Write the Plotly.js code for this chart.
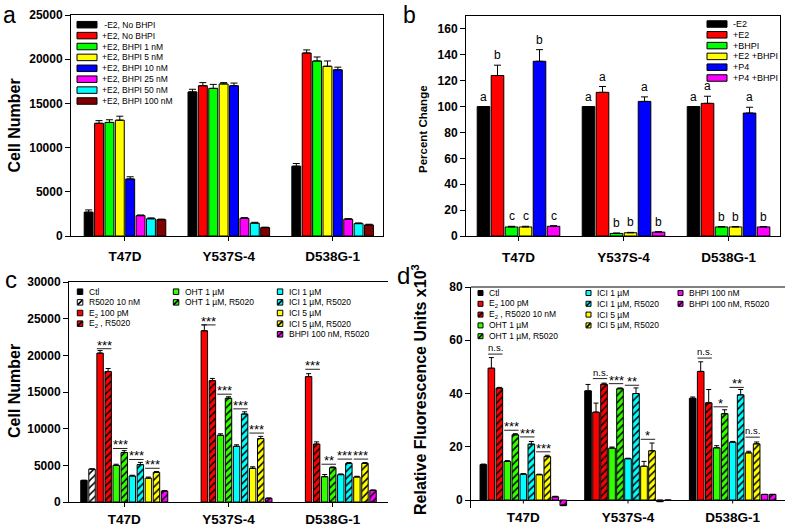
<!DOCTYPE html>
<html>
<head>
<meta charset="utf-8">
<script src="https://cdn.plot.ly/plotly-3.0.1.min.js"></script>
<style>html,body{margin:0;padding:0;background:#fff;}#chart{width:787px;height:527px;}</style>
</head>
<body>
<div id="chart"></div>
<script>
// ---------------- DATA ----------------
const categories = ['T47D', 'Y537S-4', 'D538G-1'];

// Panel a: cell number
const aSeriesNames = [' -E2, No BHPI', '+E2, No BHPI', '+E2, BHPI 1 nM', '+E2, BHPI 5 nM', '+E2, BHPI 10 nM', '+E2, BHPI 25 nM', '+E2, BHPI 50 nM', '+E2, BHPI 100 nM'];
const aCellNumber = [
  [2700, 16300, 7900],
  [12750, 17000, 20700],
  [12850, 16700, 19800],
  [13100, 17200, 19200],
  [6450, 17000, 18800],
  [2300, 2000, 1900],
  [1950, 1450, 1400],
  [1850, 950, 1250]
];
const aError = [
  [250, 300, 300],
  [300, 350, 350],
  [300, 450, 450],
  [450, 150, 600],
  [250, 300, 300],
  [80, 80, 60],
  [100, 100, 80],
  [60, 50, 80]
];

// Panel b: percent change
const bSeriesNames = ['-E2', '+E2', '+BHPI', '+E2 +BHPI', '+P4', '+P4 +BHPI'];
const bPercent = [
  [100, 100, 100],
  [124, 111, 102.5],
  [7, 2, 7],
  [7, 2.5, 7],
  [135, 104, 95],
  [7.5, 3, 7]
];
const bError = [
  [0, 0, 0],
  [8, 4.5, 5.5],
  [0.5, 0.3, 0.3],
  [0.5, 0.3, 0.3],
  [9, 3.5, 4.5],
  [0.5, 0.3, 0.3]
];
const bLetters = [
  ['a', 'a', 'a'],
  ['b', 'a', 'a'],
  ['c', 'b', 'b'],
  ['c', 'b', 'b'],
  ['b', 'a', 'a'],
  ['c', 'b', 'b']
];

// Panel c: cell number
const cSeriesNames = ['Ctl', 'R5020 10 nM', 'E<sub>2</sub> 100 pM', 'E<sub>2</sub> , R5020', 'OHT 1 µM', 'OHT 1 µM, R5020', 'ICI 1 µM', 'ICI 1 µM, R5020', 'ICI 5 µM', 'ICI 5 µM, R5020', 'BHPI 100 nM, R5020'];
const cCellNumber = [
  [2950, null, null],
  [4500, null, null],
  [20300, 23350, 17100],
  [17800, 16550, 7900],
  [5000, 9100, 3450],
  [6750, 14150, 4680],
  [3550, 7600, 3730],
  [5100, 12000, 5270],
  [3250, 4600, 3410],
  [4050, 8650, 5270],
  [1500, 500, 1590]
];
const cError = [
  [0, 0, 0],
  [0, 0, 0],
  [350, 800, 400],
  [400, 300, 300],
  [150, 200, 300],
  [250, 200, 100],
  [100, 200, 100],
  [300, 300, 100],
  [150, 200, 100],
  [100, 300, 100],
  [50, 50, 50]
];
const cSigCategory = [0, 0, 0, 0, 1, 1, 1, 1, 2, 2, 2, 2];
const cSigFirstSeries = [2, 4, 6, 8, 2, 4, 6, 8, 2, 4, 6, 8];
const cSigLevel = [20900, 7300, 5800, 4600, 24150, 14700, 12700, 9400, 18100, 5150, 5850, 5850];
const cSigLabel = ['***', '***', '***', '***', '***', '***', '***', '***', '***', '**', '***', '***'];

// Panel d: relative fluorescence units x10^3
const dSeriesNames = ['Ctl', 'E<sub>2</sub> 100 pM', 'E<sub>2</sub> , R5020 10 nM', 'OHT 1 µM', 'OHT 1 µM, R5020', 'ICI 1 µM', 'ICI 1 µM, R5020', 'ICI 5 µM', 'ICI 5 µM, R5020', 'BHPI 100 nM', 'BHPI 100 nM, R5020'];
const dRFU = [
  [13.3, 41, 38.2],
  [49.5, 33, 48.3],
  [42, 43.5, 36.5],
  [14.5, 19.5, 19.6],
  [24.5, 41.8, 32.4],
  [9.7, 15.5, 21.7],
  [21, 40, 39.5],
  [9.5, 12.7, 17.7],
  [16.3, 18.5, 21.1],
  [1.2, -0.6, 2.1],
  [-2.1, -0.1, 2.1]
];
const dError = [
  [0.2, 2.4, 0.5],
  [4, 3.4, 3.6],
  [0.3, 0.4, 5],
  [0.3, 0.4, 0.8],
  [0.4, 0.3, 1.5],
  [0.2, 0.2, 0.3],
  [1, 2.1, 2],
  [0.2, 1.8, 0.6],
  [0.5, 2.9, 0.7],
  [0.2, 0.5, 0],
  [0.3, 0, 0]
];
const dSigCategory = [0, 0, 0, 0, 1, 1, 1, 1, 2, 2, 2, 2];
const dSigFirstSeries = [1, 3, 5, 7, 1, 3, 5, 7, 1, 3, 5, 7];
const dSigLevel = [54.8, 26.2, 23.7, 18.1, 45.6, 43.7, 43.1, 22.8, 53.3, 35, 42.3, 23.6];
const dSigLabel = ['n.s.', '***', '***', '***', 'n.s.', '***', '**', '*', 'n.s.', '*', '**', 'n.s.'];

// ---------------- STYLE ----------------
const aColors = ['#000000', '#ff0000', '#00ff00', '#ffff00', '#0000ff', '#ff00ff', '#00ffff', '#800000'];
const bColors = ['#000000', '#ff0000', '#00ff00', '#ffff00', '#0000ff', '#ff00ff'];
const LIME = '#33ff00';
const cColors = ['#000000', '#ffffff', '#ff0000', '#ff0000', LIME, LIME, '#00ffff', '#00ffff', '#ffff00', '#ffff00', '#ff00ff'];
const cHatch = [0, 1, 0, 1, 0, 1, 0, 1, 0, 1, 1];
const dColors = ['#000000', '#ff0000', '#ff0000', LIME, LIME, '#00ffff', '#00ffff', '#ffff00', '#ffff00', '#ff00ff', '#ff00ff'];
const dHatch = [0, 0, 1, 0, 1, 0, 1, 0, 1, 0, 1];

const W = 787, H = 527;
const fx = p => p / W;
const fy = p => 1 - p / H;
const FONT = 'Liberation Sans, Arial, Helvetica, sans-serif';

const traces = [];
const annotations = [];
const shapes = [];

function groupGeom(n, G) { const slot = G / n; return { slot, center: (c, i) => c - G / 2 + (i + 0.5) * slot }; }

function buildBars(s, vals, errs, colors, hatch, G, f, capw) {
  const n = vals.length, slot = G / n;
  vals.forEach((v, i) => {
    const marker = { color: colors[i], line: { color: '#000', width: 1 } };
    if (hatch && hatch[i]) marker.pattern = { shape: '/', fgcolor: '#000', bgcolor: colors[i], size: 5, solidity: 0.3, fillmode: 'replace' };
    traces.push({
      type: 'bar', x: [0, 1, 2], y: v, xaxis: 'x' + s, yaxis: 'y' + s,
      width: slot * f, offset: -G / 2 + i * slot + slot * (1 - f) / 2,
      marker, hoverinfo: 'skip', showlegend: false,
      error_y: { type: 'data', array: errs[i], arrayminus: [0, 0, 0], symmetric: false, color: '#000', thickness: 1, width: capw }
    });
  });
}

function buildSig(s, n, G, cats, firsts, levels, labels, starSize, shiftStar, shiftText) {
  const g = groupGeom(n, G);
  cats.forEach((c, k) => {
    const i = firsts[k];
    const x0 = g.center(c, i) - 0.4 * g.slot, x1 = g.center(c, i + 1) + 0.4 * g.slot;
    shapes.push({ type: 'line', xref: 'x' + s, yref: 'y' + s, x0, x1, y0: levels[k], y1: levels[k], line: { color: '#222', width: 1 } });
    const isStar = labels[k].indexOf('*') >= 0;
    annotations.push({ xref: 'x' + s, yref: 'y' + s, x: (x0 + x1) / 2, y: levels[k], text: labels[k], showarrow: false,
      yanchor: 'bottom', xanchor: 'center', yshift: isStar ? shiftStar : shiftText,
      font: { family: FONT, size: isStar ? starSize : 9.5, color: '#000' } });
  });
}

function buildLegend(cols, names, colors, hatch, sw, sh, textDx, y0, step, fontSize) {
  cols.forEach(col => {
    col.items.forEach((idx, r) => {
      const yc = y0 + r * step;
      shapes.push({ type: 'rect', xref: 'paper', yref: 'paper', x0: fx(col.x), x1: fx(col.x + sw), y0: fy(yc + sh / 2), y1: fy(yc - sh / 2),
        fillcolor: colors[idx], line: { color: '#000', width: 1 } });
      if (hatch && hatch[idx]) {
        shapes.push({ type: 'line', xref: 'paper', yref: 'paper', x0: fx(col.x + 0.5), x1: fx(col.x + sw - 0.5), y0: fy(yc + sh / 2 - 0.5), y1: fy(yc - sh / 2 + 0.5),
          line: { color: '#000', width: 1.6 } });
      }
      annotations.push({ xref: 'paper', yref: 'paper', x: fx(col.x + textDx), y: fy(yc), text: names[idx], showarrow: false,
        xanchor: 'left', yanchor: 'middle', font: { family: FONT, size: fontSize, color: '#000' } });
    });
  });
}

// Panel a
const GA = 0.8, FA = 0.86;
buildBars('', aCellNumber, aError, aColors, null, GA, FA, 3.5);
buildLegend([{ x: 77, items: [0, 1, 2, 3, 4, 5, 6, 7] }], aSeriesNames, aColors, null, 20, 6.5, 23, 24.7, 10.9, 8.5);

// Panel b
const GB = 0.8, FB = 0.9;
buildBars('2', bPercent, bError, bColors, null, GB, FB, 3.5);
buildLegend([{ x: 707, items: [0, 1, 2, 3, 4, 5] }], bSeriesNames, bColors, null, 20, 6.5, 24, 24, 10.8, 9);
{
  const g = groupGeom(6, GB);
  bLetters.forEach((row, i) => row.forEach((t, c) => {
    annotations.push({ xref: 'x2', yref: 'y2', x: g.center(c, i), y: bPercent[i][c] + bError[i][c], text: t, showarrow: false,
      yanchor: 'bottom', yshift: 1, font: { family: FONT, size: 12, color: '#000' } });
  }));
}

// Panel c
const GC = 0.85, FC = 0.8;
buildBars('3', cCellNumber, cError, cColors, cHatch, GC, FC, 2.5);
buildSig('3', 11, GC, cSigCategory, cSigFirstSeries, cSigLevel, cSigLabel, 13, -6, -1);
buildLegend([{ x: 77.3, items: [0, 1, 2, 3] }, { x: 173.3, items: [4, 5] }, { x: 277.3, items: [6, 7, 8, 9, 10] }],
  cSeriesNames, cColors, cHatch, 5.5, 5.5, 9.5, 291.7, 10.65, 8.5);

// Panel d
const GD = 0.84, FD = 0.83;
buildBars('4', dRFU, dError, dColors, dHatch, GD, FD, 2.5);
buildSig('4', 11, GD, dSigCategory, dSigFirstSeries, dSigLevel, dSigLabel, 13, -6, -1);
buildLegend([{ x: 478, items: [0, 1, 2, 3, 4] }, { x: 586, items: [5, 6, 7, 8] }, { x: 678, items: [9, 10] }],
  dSeriesNames, dColors, dHatch, 5, 5, 9, 293, 10.8, 8.5);
// category ticks on the zero line of panel d
[0, 1, 2].forEach(c => shapes.push({ type: 'line', xref: 'x4', yref: 'y4', x0: c, x1: c, y0: 0, y1: -1.3, line: { color: '#000', width: 1 } }));
// top border of panel d
shapes.push({ type: 'line', xref: 'paper', yref: 'paper', x0: fx(471), x1: fx(785), y0: fy(287), y1: fy(287), line: { color: '#000', width: 1 } });

// axis titles and panel letters
function label(x, y, text, size, bold, angle, yanchor) {
  annotations.push({ xref: 'paper', yref: 'paper', x: fx(x), y: fy(y), text, showarrow: false, textangle: angle || 0,
    xanchor: 'center', yanchor: yanchor || 'middle', font: { family: FONT, size, color: '#000', weight: bold ? 'bold' : 'normal' } });
}
label(14, 125.5, 'Cell Number', 16, true, -90);
label(423, 129, 'Percent Change', 11.5, true, -90);
label(14, 391, 'Cell Number', 16, true, -90);
label(419, 390, 'Relative Fluorescence Units x10<sup>3</sup>', 16, true, -90);
label(9, 0, 'a', 23, false, 0, 'top');
label(409, 0, 'b', 23, false, 0, 'top');
label(11, 279, 'c', 24, false);
label(404, 275, 'd', 24, false);

// ---------------- LAYOUT ----------------
const tickFontY = { family: FONT, size: 12, color: '#000', weight: 'bold' };
const tickFontX = { family: FONT, size: 13.5, color: '#000', weight: 'bold' };
function xAx(d0, d1, r0, r1, anchor, mirror, showline, standoff) {
  return { domain: [fx(d0), fx(d1)], range: [r0, r1], anchor, tickmode: 'array', tickvals: [0, 1, 2], ticktext: categories,
    ticks: showline ? 'outside' : '', ticklen: 4, tickcolor: '#000', showline, mirror, linecolor: '#000', linewidth: 1,
    showgrid: false, zeroline: false, tickfont: tickFontX, fixedrange: true, ticklabelstandoff: standoff };
}
function yAx(top, bottom, r0, r1, dtick, anchor, mirror) {
  return { domain: [fy(bottom), fy(top)], range: [r0, r1], anchor, tickmode: 'linear', tick0: 0, dtick, tickformat: 'd',
    ticks: 'outside', ticklen: 5, tickcolor: '#000', showline: true, mirror, linecolor: '#000', linewidth: 1,
    showgrid: false, zeroline: false, tickfont: tickFontY, fixedrange: true };
}
const layout = {
  width: W, height: H, margin: { l: 0, r: 0, t: 0, b: 0 },
  paper_bgcolor: '#fff', plot_bgcolor: 'rgba(0,0,0,0)', showlegend: false,
  font: { family: FONT, color: '#000' },
  barmode: 'overlay',
  xaxis: xAx(71, 383, -0.52, 2.485, 'y', true, true, 4),
  yaxis: yAx(15, 236, 0, 25000, 5000, 'x', true),
  xaxis2: xAx(466, 780, -0.5, 2.49, 'y2', true, true, 5),
  yaxis2: yAx(16, 236, 0, 170, 20, 'x2', true),
  xaxis3: xAx(69, 388, -0.53, 2.53, 'y3', true, true, 1),
  yaxis3: yAx(282, 502, 0, 30000, 5000, 'x3', false),
  xaxis4: xAx(471, 785, -0.5, 2.5, 'y4', false, false, -1),
  yaxis4: Object.assign(yAx(287, 508, -3, 80, 20, 'x4', false), { zeroline: true, zerolinecolor: '#000', zerolinewidth: 1 }),
  annotations, shapes
};
Plotly.newPlot('chart', traces, layout, { displayModeBar: false, staticPlot: true });
</script>
</body>
</html>
